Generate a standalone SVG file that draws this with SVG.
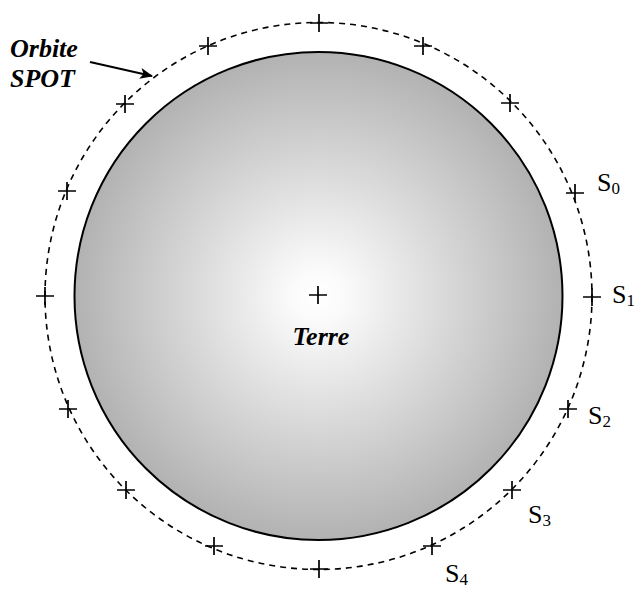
<svg xmlns="http://www.w3.org/2000/svg" width="634" height="592" viewBox="0 0 634 592">
<style>
.lbl{font-family:"Liberation Serif","Times New Roman",serif;font-size:26px;fill:#000}
.sub{font-size:17px}
.bi{font-family:"Liberation Serif","Times New Roman",serif;font-size:26px;font-weight:bold;font-style:italic;fill:#000}
.cross{stroke:#000;stroke-width:1.7;fill:none}
</style>
<defs>
<radialGradient id="g" cx="0.5" cy="0.5" r="0.5">
<stop offset="0" stop-color="#ffffff"/>
<stop offset="0.1" stop-color="#fbfbfb"/>
<stop offset="1" stop-color="#b2b2b2"/>
</radialGradient>
<path id="plus" d="M-9,0H9M0,-9V9"/>
<marker id="ah" viewBox="0 0 12 10" refX="11" refY="5" markerWidth="13" markerHeight="11" markerUnits="userSpaceOnUse" orient="auto">
<path d="M0,0L12,5L0,10L3,5Z" fill="#000"/>
</marker>
</defs>
<rect width="634" height="592" fill="#fff"/>
<g id="terre">
<circle cx="318.5" cy="296" r="244" fill="url(#g)" stroke="#000" stroke-width="2"/>
<use href="#plus" x="318" y="295" class="cross"/>
<text x="321" y="345" text-anchor="middle" class="bi">Terre</text>
</g>
<g id="orbite">
<circle cx="318.5" cy="296" r="273.5" fill="none" stroke="#000" stroke-width="1.6" stroke-dasharray="6,5"/>
<g class="cross">
<use href="#plus" x="319" y="23"/>
<use href="#plus" x="423" y="46"/>
<use href="#plus" x="510" y="103"/>
<use href="#plus" x="575" y="193"/>
<use href="#plus" x="592" y="297"/>
<use href="#plus" x="568" y="409"/>
<use href="#plus" x="512" y="490"/>
<use href="#plus" x="432" y="546"/>
<use href="#plus" x="319" y="569"/>
<use href="#plus" x="214" y="546"/>
<use href="#plus" x="126" y="490"/>
<use href="#plus" x="68" y="409"/>
<use href="#plus" x="45" y="296"/>
<use href="#plus" x="67" y="191"/>
<use href="#plus" x="125" y="104"/>
<use href="#plus" x="208" y="46"/>
</g>
</g>
<g id="label-orbite">
<text x="10" y="57" class="bi">Orbite</text>
<text x="10" y="87" class="bi">SPOT</text>
</g>
<g id="connectors">
<line x1="90" y1="62" x2="152" y2="76" stroke="#000" stroke-width="2" marker-end="url(#ah)"/>
</g>
<g id="s-labels">
<text x="597" y="191" class="lbl">S<tspan class="sub" dy="3">0</tspan></text>
<text x="612" y="303" class="lbl">S<tspan class="sub" dy="3">1</tspan></text>
<text x="588" y="424" class="lbl">S<tspan class="sub" dy="3">2</tspan></text>
<text x="528" y="523" class="lbl">S<tspan class="sub" dy="3">3</tspan></text>
<text x="445" y="582" class="lbl">S<tspan class="sub" dy="3">4</tspan></text>
</g>
</svg>
